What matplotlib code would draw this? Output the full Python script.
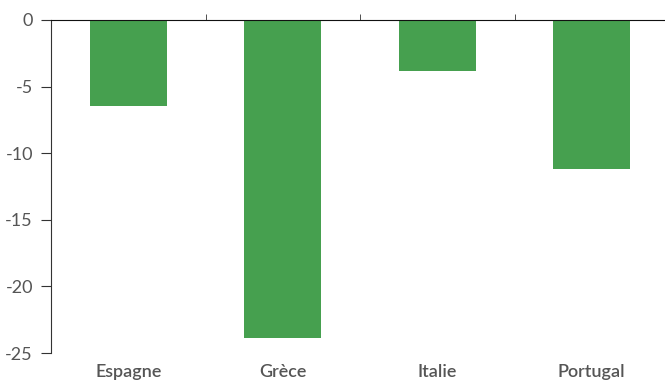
import matplotlib
matplotlib.use("Agg")
import matplotlib.pyplot as plt

pays = ["Espagne", "Grèce", "Italie", "Portugal"]
valeurs = [-6.45, -23.9, -3.8, -11.15]
yticks = [0, -5, -10, -15, -20, -25]

plt.rcParams['font.family'] = ['Lato', 'DejaVu Sans']

fig = plt.figure(figsize=(6.65, 3.87), dpi=100)
ax = fig.add_axes([51/665, 1 - 353/387, 618/665, 333/387])

x = range(len(pays))
ax.bar(x, valeurs, width=0.5, color="#46a04f")

ax.set_xlim(-0.5, len(pays) - 0.5)
ax.set_ylim(-25, 0)
ax.set_yticks(yticks)
ax.set_yticklabels([str(v) for v in yticks])

ax.set_xticks(list(x))
ax.set_xticklabels(pays, fontsize=13, color="#555555", fontweight="semibold")
ax.set_xticks([0.5, 1.5, 2.5], minor=True)
ax.tick_params(axis="x", which="major", length=0, pad=8)
ax.tick_params(axis="x", which="minor", bottom=False, top=True,
               direction="out", length=4, color="#333333")
ax.tick_params(axis="y", length=7, color="#333333", labelsize=13,
               labelcolor="#555555", pad=6)

ax.spines["bottom"].set_visible(False)
ax.spines["right"].set_visible(False)
ax.spines["top"].set_color("#111111")
ax.spines["left"].set_color("#333333")

fig.savefig("out.png", dpi=100)
